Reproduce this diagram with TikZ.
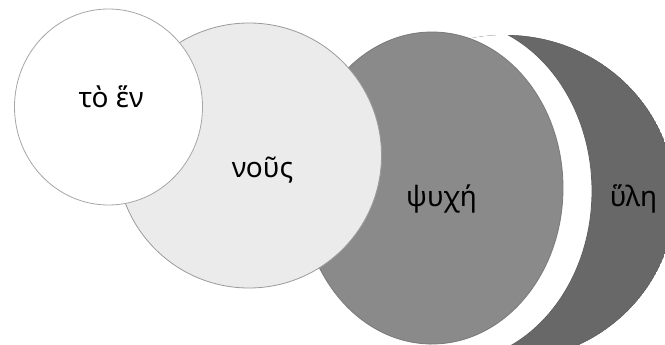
\documentclass[tikz,border=0pt]{standalone}
\usepackage{fontspec}
\setmainfont{Noto Sans}
\definecolor{onefill}{HTML}{FFFFFF}
\definecolor{oneline}{HTML}{A6A6A6}
\definecolor{nousfill}{HTML}{EBEBEB}
\definecolor{nousline}{HTML}{9A9A9A}
\definecolor{psychefill}{HTML}{8A8A8A}
\definecolor{psycheline}{HTML}{7A7A7A}
\definecolor{hylefill}{HTML}{686868}
\definecolor{hyleline}{HTML}{5E5E5E}

\begin{document}
\begin{tikzpicture}[x=1pt,y=-1pt,
    word/.style={font=\fontsize{28}{32}\selectfont, inner sep=0pt, anchor=base},
    rim/.style={line width=0.8pt}]
  \useasboundingbox (0,0) rectangle (665,345);
  % crescent of matter, cut by a white gap
  \begin{scope}
    \clip (505,198) ellipse [x radius=170, y radius=163];
    \filldraw[rim, fill=hylefill, draw=hyleline] (505,198) ellipse [x radius=170, y radius=163];
    \filldraw[rim, fill=white, draw=hyleline] (450,191) ellipse [x radius=142, y radius=171];
  \end{scope}
  \filldraw[rim, fill=psychefill, draw=psycheline] (432,188) ellipse [x radius=131, y radius=156];
  \filldraw[rim, fill=nousfill, draw=nousline] (249,155.5) circle (132.5);
  \filldraw[rim, fill=onefill, draw=oneline] (108.5,107) ellipse [x radius=94, y radius=98];
  \node[word] (one) at (111,108) {τὸ ἕν};
  \node[word] (nous) at (262.5,177) {νοῦς};
  \node[word] (psyche) at (441.5,206) {ψυχή};
  \node[word] (hyle) at (633.5,206) {ὕλη};
\end{tikzpicture}
\end{document}
